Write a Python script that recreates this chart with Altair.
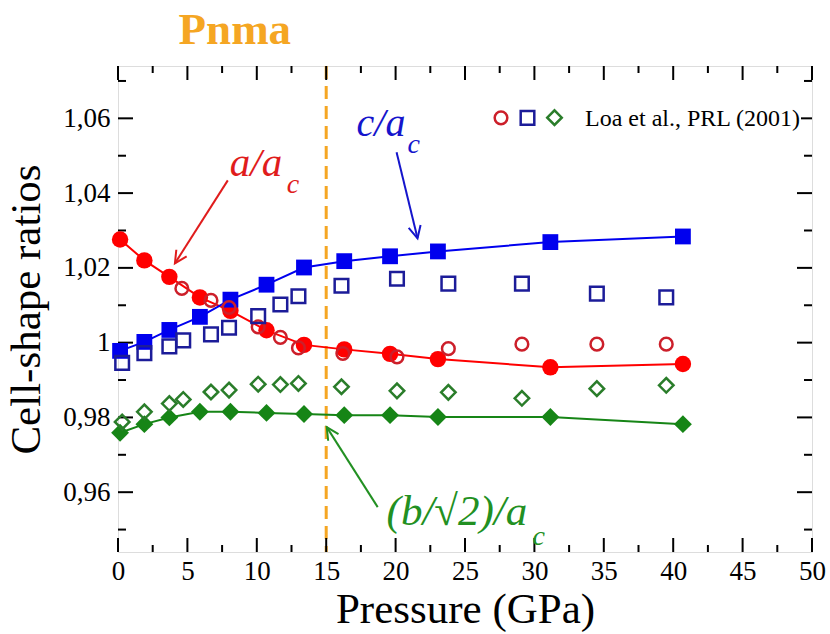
import altair as alt
import pandas as pd

# ---------------- data ----------------
# This work: filled symbols joined by lines
P_calc = [0.15, 1.9, 3.7, 5.9, 8.1, 10.7, 13.4, 16.3, 19.6, 23.05, 31.15, 40.7]
a_calc = [1.0276, 1.0220, 1.0176, 1.0121, 1.0085, 1.0033, 0.9994, 0.9982, 0.9970, 0.9956, 0.9934, 0.9943]
c_calc = [0.9978, 1.0002, 1.0034, 1.0069, 1.0115, 1.0155, 1.0201, 1.0218, 1.0231, 1.0244, 1.0269, 1.0284]
b_calc = [0.9759, 0.9782, 0.9800, 0.9815, 0.9815, 0.9812, 0.9809, 0.9806, 0.9806, 0.9801, 0.9801, 0.9782]

# Loa et al., PRL (2001): open symbols
P_loa_a = [4.6, 6.7, 8.0, 10.1, 11.7, 13.0, 16.2, 20.1, 23.8, 29.1, 34.5, 39.5]
a_loa = [1.0145, 1.0113, 1.0094, 1.0042, 1.0014, 0.9986, 0.9971, 0.9962, 0.9984, 0.9996, 0.9996, 0.9996]
P_loa = [0.3, 1.9, 3.7, 4.7, 6.7, 8.0, 10.1, 11.7, 13.0, 16.1, 20.1, 23.8, 29.1, 34.5, 39.5]
c_loa = [0.9946, 0.9972, 0.9990, 1.0006, 1.0022, 1.0040, 1.0071, 1.0102, 1.0124, 1.0152, 1.0171, 1.0158, 1.0158, 1.0131, 1.0121]
b_loa = [0.9788, 0.9815, 0.9837, 0.9848, 0.9868, 0.9873, 0.9889, 0.9888, 0.9891, 0.9882, 0.9871, 0.9867, 0.9851, 0.9877, 0.9886]

phase_boundary = [15]
x_major = [0, 5, 10, 15, 20, 25, 30, 35, 40, 45, 50]
x_minor = [2.5, 7.5, 12.5, 17.5, 22.5, 27.5, 32.5, 37.5, 42.5, 47.5]
y_major = [0.96, 0.98, 1.00, 1.02, 1.04, 1.06]
y_minor = [0.95, 0.97, 0.99, 1.01, 1.03, 1.05, 1.07]

# ---------------- styling ----------------
W, H = 694, 486
FONT = "Liberation Serif"
RED, BLUE, GREEN = "#ff0000", "#0000ee", "#168516"
RED_O, BLUE_O, GREEN_O = "#cc1f2a", "#1c1c99", "#2a7d2a"
ORANGE = "#f5a623"

xs = alt.Scale(domain=[0, 50], nice=False, zero=False)
ys = alt.Scale(domain=[0.944, 1.074], nice=False, zero=False)
xaxis = alt.Axis(values=x_major, ticks=False, domain=False, grid=False,
                 labelFont=FONT, titleFont=FONT,
                 labelFontSize=27, labelPadding=6, labelFlush=False,
                 labelColor="black", titleColor="black",
                 titleFontSize=43, titleFontWeight="normal", titlePadding=4)
yaxis = alt.Axis(values=y_major, ticks=False, domain=False, grid=False,
                 labelFont=FONT, titleFont=FONT,
                 labelExpr="datum.value == 1 ? '1' : replace(format(datum.value, '.2f'), '.', ',')",
                 labelFontSize=27, labelPadding=8, labelColor="black", titleColor="black",
                 titleFontSize=43, titleFontWeight="normal", titlePadding=14)


def X(field="P"):
    return alt.X(f"{field}:Q", scale=xs, axis=xaxis, title="Pressure (GPa)")


def Y(field="v"):
    return alt.Y(f"{field}:Q", scale=ys, axis=yaxis, title="Cell-shape ratios")


layers = []

# phase boundary
layers.append(
    alt.Chart(pd.DataFrame({"P": phase_boundary})).mark_rule(
        color=ORANGE, strokeWidth=3, strokeDash=[13, 7]
    ).encode(x=X())
)

# inward ticks on all four sides
def xticks(vals, length):
    d = pd.DataFrame({"P": vals})
    return [
        alt.Chart(d).mark_rule(color="black", strokeWidth=2).encode(
            x=X(), y=alt.value(H), y2=alt.value(H - length)),
        alt.Chart(d).mark_rule(color="black", strokeWidth=2).encode(
            x=X(), y=alt.value(0), y2=alt.value(length)),
    ]


def yticks(vals, length):
    d = pd.DataFrame({"v": vals})
    return [
        alt.Chart(d).mark_rule(color="black", strokeWidth=2).encode(
            y=Y(), x=alt.value(0), x2=alt.value(length)),
        alt.Chart(d).mark_rule(color="black", strokeWidth=2).encode(
            y=Y(), x=alt.value(W), x2=alt.value(W - length)),
    ]


layers += xticks(x_major, 14) + xticks(x_minor, 7) + yticks(y_major, 15) + yticks(y_minor, 8)

# this work: lines + filled symbols
for vals, col, shape, size in [
    (a_calc, RED, "circle", 270),
    (c_calc, BLUE, "square", 250),
    (b_calc, GREEN, "diamond", 320),
]:
    d = pd.DataFrame({"P": P_calc, "v": vals})
    layers.append(alt.Chart(d).mark_line(color=col, strokeWidth=2).encode(x=X(), y=Y()))
    layers.append(alt.Chart(d).mark_point(shape=shape, size=size, filled=True, color=col,
                                          opacity=1).encode(x=X(), y=Y()))

# Loa et al. open symbols (with legend)
loa = pd.concat([
    pd.DataFrame({"P": P_loa_a, "v": a_loa, "series": "a"}),
    pd.DataFrame({"P": P_loa, "v": c_loa, "series": "c"}),
    pd.DataFrame({"P": P_loa, "v": b_loa, "series": "b"}),
])
leg = alt.Legend(title="Loa et al., PRL (2001)", orient="none", legendX=375, legendY=43,
                 direction="horizontal", titleOrient="right", titleFontSize=24,
                 titleFontWeight="normal", titleColor="black", titleFont=FONT,
                 titleLimit=400, titlePadding=18, titleBaseline="middle",
                 labelExpr="''", labelOffset=0, columnPadding=2,
                 symbolStrokeWidth=2.5, padding=0, fillColor="white")
dom = ["a", "c", "b"]
layers.append(
    alt.Chart(loa).mark_point(filled=False, strokeWidth=2.5, opacity=1).encode(
        x=X(), y=Y(),
        color=alt.Color("series:N", scale=alt.Scale(domain=dom, range=[RED_O, BLUE_O, GREEN_O]), legend=leg),
        shape=alt.Shape("series:N", scale=alt.Scale(domain=dom, range=["circle", "square", "diamond"]), legend=leg),
        size=alt.Size("series:N", scale=alt.Scale(domain=dom, range=[160, 210, 260]), legend=leg),
    )
)

# annotations: labels and arrows (data coordinates)
def label(x, y, text, col, size, style="italic", weight="normal", align="left"):
    return alt.Chart(pd.DataFrame({"P": [x], "v": [y], "t": [text]})).mark_text(
        align=align, baseline="alphabetic", font=FONT, fontStyle=style, fontWeight=weight,
        fontSize=size, color=col).encode(x=X(), y=Y(), text="t:N")


def arrow(x0, y0, x1, y1, ang, col):
    line = alt.Chart(pd.DataFrame({"P": [x0], "v": [y0], "P2": [x1], "v2": [y1]})).mark_rule(
        color=col, strokeWidth=2).encode(x=X(), y=Y(), x2="P2:Q", y2="v2:Q")
    head = alt.Chart(pd.DataFrame({"P": [x1], "v": [y1]})).mark_point(
        shape="M-0.5,1 L0,0 L0.5,1", size=600, filled=False, strokeWidth=2,
        color=col, angle=ang, opacity=1).encode(x=X(), y=Y())
    return [line, head]


layers += [
    label(8.42, 1.0800, "Pnma", ORANGE, 45, style="normal", weight="bold", align="center"),
    label(8.06, 1.0445, "a/a", "#e01c1c", 41),
    label(12.16, 1.0399, "c", "#e01c1c", 28),
    label(17.19, 1.0554, "c/a", "#1515cc", 40),
    label(20.86, 1.0506, "c", "#1515cc", 28),
    label(19.35, 0.9512, "(b/\u221a2)/a", "#229022", 43),
    label(29.86, 0.9458, "c", "#229022", 28),
]
layers += arrow(7.91, 1.0434, 4.10, 1.0212, 212.5, "#e01c1c")
layers += arrow(20.07, 1.0509, 21.58, 1.0279, 166.3, "#1515cc")
layers += arrow(18.71, 0.9560, 15.04, 0.9774, 327.5, "#229022")

chart = alt.layer(*layers).properties(
    width=W, height=H,
    padding={"left": 118, "top": 66, "right": 18, "bottom": 82},
    autosize=alt.AutoSizeParams(type="none"),
).configure_view(stroke="black", strokeWidth=3).configure_axis(
    labelFont=FONT, titleFont=FONT
).configure(background="white")

chart.save("out.html", embed_options={"renderer": "svg", "actions": False})
